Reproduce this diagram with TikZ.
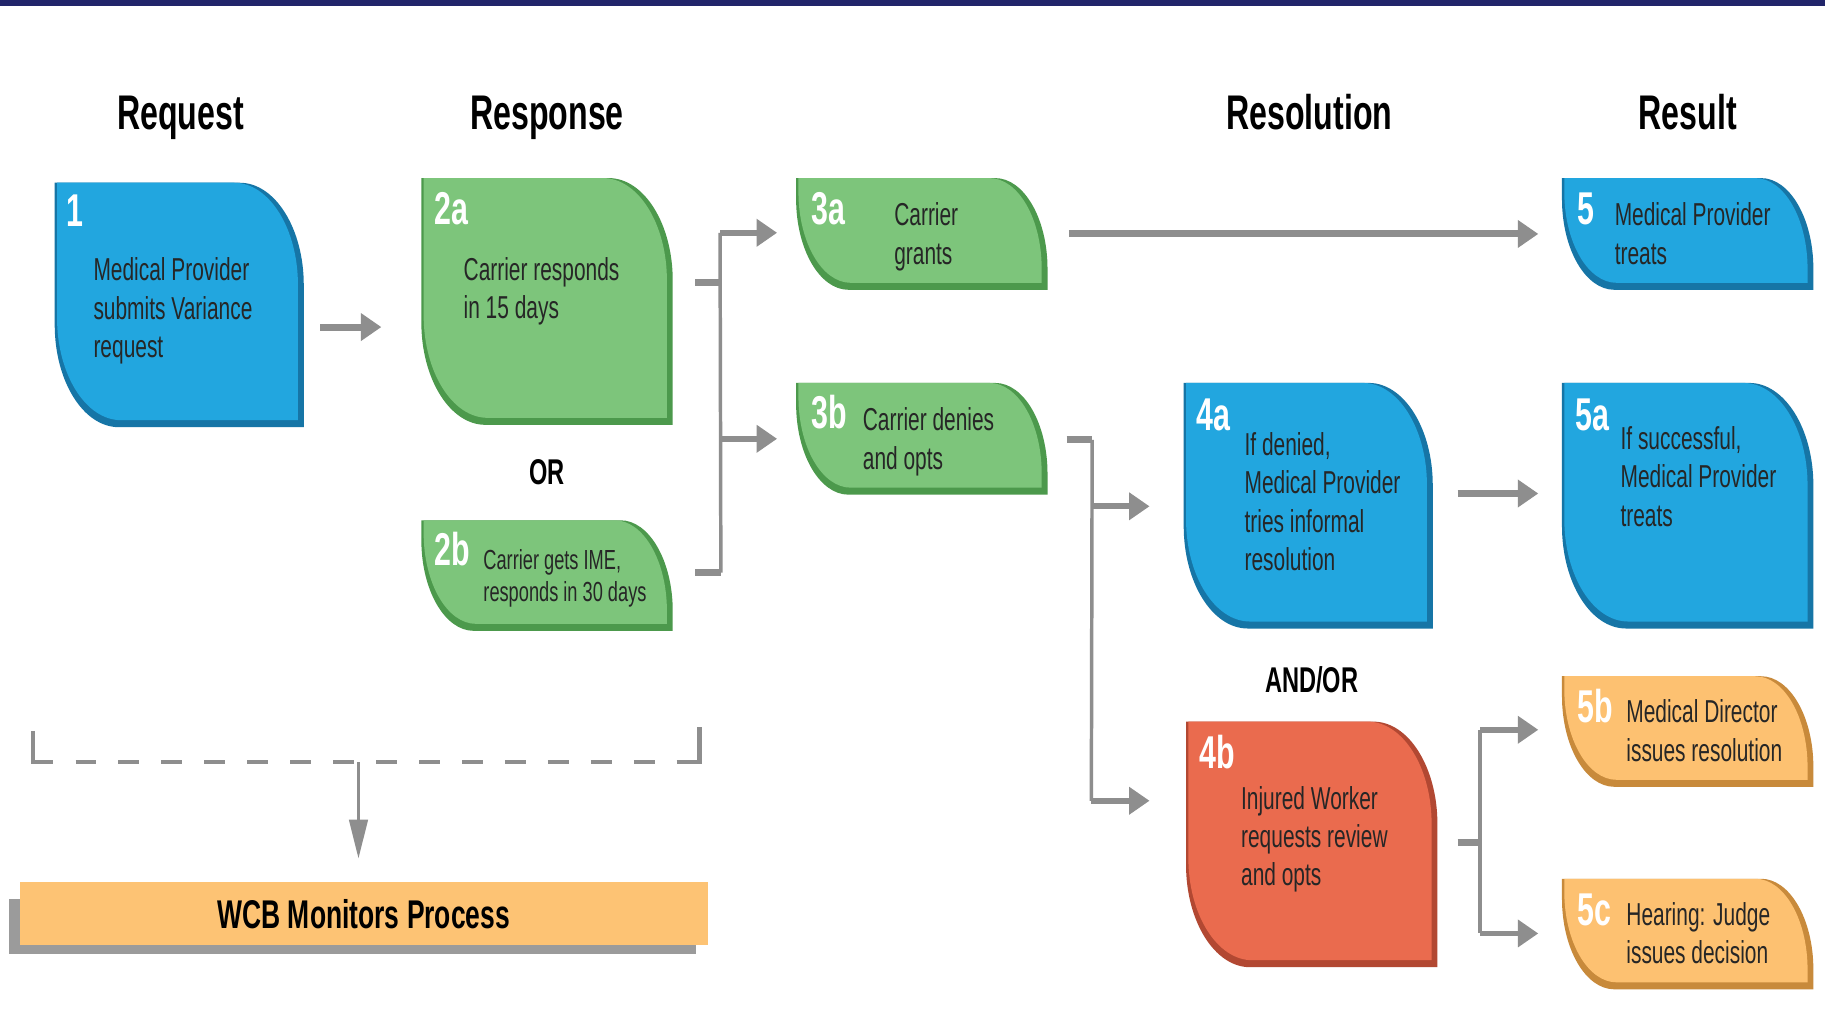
\documentclass[tikz,border=0pt]{standalone}
\usepackage{fontspec}
\setmainfont{Liberation Sans}[FakeStretch=0.66]
\usetikzlibrary{arrows.meta,fit,calc}
\definecolor{navy}{HTML}{21256A}
\definecolor{bluemain}{HTML}{22A6DF}
\definecolor{bluedark}{HTML}{1675A6}
\definecolor{greenmain}{HTML}{7DC57B}
\definecolor{greendark}{HTML}{4C994C}
\definecolor{redmain}{HTML}{EA6B4E}
\definecolor{reddark}{HTML}{B24832}
\definecolor{orgmain}{HTML}{FDC171}
\definecolor{orgdark}{HTML}{C88A3B}
\definecolor{wcborange}{HTML}{FDC374}
\definecolor{shadowgray}{HTML}{9B9B9B}
\definecolor{arrowgray}{HTML}{8E8E8E}
\definecolor{txt}{HTML}{262626}
% #1 L, #2 T, #3 R, #4 B, #5 rx, #6 ry, #7 fill colour
\newcommand\boxshape[7]{%
  \fill[#7] (#1,#2) -- ({#3-#5},#2) .. controls ({#3-0.448*#5},#2) and (#3,{#2+0.448*#6}) .. (#3,{#2+#6})
    -- (#3,#4) -- ({#1+#5},#4) .. controls ({#1+0.448*#5},#4) and (#1,{#4-0.448*#6}) .. (#1,{#4-#6}) -- cycle;}
% #1 name, #2 L, #3 T, #4 R, #5 B, #6 rx, #7 ry, #8 colour prefix
\newcommand\flowbox[8]{%
  \boxshape{#2}{#3}{#4}{#5}{#6}{#7}{#8dark}
  \boxshape{#2+2}{#3}{#4-5}{#5-6}{#6}{#7}{#8main}
  \node[fit={(#2,#3) (#4,#5)}, inner sep=0pt] (#1) {};}
\tikzset{
  body/.style={anchor=base west, align=left, inner sep=0pt, text=txt,
    font=\fontsize{15.5}{18.7}\selectfont},
  smallbody/.style={body, font=\fontsize{13.5}{15.9}\selectfont},
  lbl/.style={anchor=base west, inner sep=0pt, text=white,
    font=\bfseries\fontsize{22.5}{24}\selectfont},
  head/.style={anchor=base, inner sep=0pt, text=black,
    font=\bfseries\fontsize{23.8}{26}\selectfont},
  conj/.style={anchor=base, inner sep=0pt, text=black,
    font=\bfseries\fontsize{17.5}{19}\selectfont},
  arr/.style={draw=arrowgray, line width=3.4pt, -{Triangle[length=10pt,width=13pt]}},
  brarr/.style={draw=arrowgray, line width=2.8pt, -{Triangle[length=10pt,width=13pt]}},
  stub/.style={draw=arrowgray, line width=3.4pt},
  trunk/.style={draw=arrowgray, line width=1.7pt},
  thinline/.style={draw=arrowgray, line width=2pt},
  thinarr/.style={draw=arrowgray, line width=1.6pt, -{Triangle[length=19pt,width=9pt]}},
  wcbbar/.style={fill=wcborange, inner sep=0pt, minimum width=11.82cm, minimum height=1.08cm,
    text=black, font=\bfseries\fontsize{19.6}{22}\selectfont}
}
\begin{document}
\begin{tikzpicture}[x=0.02cm,y=-0.02cm]
\useasboundingbox (0,0) rectangle (1568,882);
\fill[white] (0,0) rectangle (1568,882);
\fill[navy] (0,0) rectangle (1568,5);

% headers
\node[head] (hreq) at (155,111) {Request};
\node[head] (hresp) at (470,111) {Response};
\node[head] (hres) at (1125,111) {Resolution};
\node[head] (hresult) at (1450,111) {Result};

% boxes
\flowbox{n1}{47}{157}{261}{367}{55}{88}{blue}
\flowbox{n2a}{362}{153}{578}{365}{55}{88}{green}
\flowbox{n2b}{362}{447}{578}{542}{45}{78}{green}
\flowbox{n3a}{684}{153}{900}{249}{45}{78}{green}
\flowbox{n3b}{684}{329}{900}{425}{45}{78}{green}
\flowbox{n5}{1342}{153}{1558}{249}{45}{78}{blue}
\flowbox{n4a}{1017}{329}{1231}{540}{55}{88}{blue}
\flowbox{n5a}{1342}{329}{1558}{540}{55}{88}{blue}
\flowbox{n4b}{1019}{620}{1235}{831}{55}{88}{red}
\flowbox{n5b}{1342}{581}{1558}{676}{45}{78}{org}
\flowbox{n5c}{1342}{755}{1558}{850}{45}{78}{org}

% labels
\node[lbl] (l1) at (57,195) {1};
\node[lbl] (l2a) at (373,193) {2a};
\node[lbl] (l2b) at (373,486) {2b};
\node[lbl] (l3a) at (697,193) {3a};
\node[lbl] (l3b) at (697,368) {3b};
\node[lbl] (l5) at (1355,193) {5};
\node[lbl] (l4a) at (1028,370) {4a};
\node[lbl] (l5a) at (1353,370) {5a};
\node[lbl] (l4b) at (1030,660) {4b};
\node[lbl] (l5b) at (1355,621) {5b};
\node[lbl] (l5c) at (1355,795) {5c};

% texts (anchored at the baseline of the last line)
\node[body] (t1) at (80,307) {Medical Provider\\submits Variance\\request};
\node[body] (t2a) at (398,274) {Carrier responds\\in 15 days};
\node[smallbody] (t2b) at (415,517) {Carrier gets IME,\\responds in 30 days};
\node[body] (t3a) at (768,227) {Carrier\\grants};
\node[body] (t3b) at (741,403) {Carrier denies\\and opts};
\node[body] (t5) at (1387,227) {Medical Provider\\treats};
\node[body] (t4a) at (1069,490) {If denied,\\Medical Provider\\tries informal\\resolution};
\node[body] (t5a) at (1392,452) {If successful,\\Medical Provider\\treats};
\node[body] (t4b) at (1066,761) {Injured Worker\\requests review\\and opts};
\node[body] (t5b) at (1397,654) {Medical Director\\issues resolution};
\node[body] (t5c) at (1397,828) {Hearing: Judge\\issues decision};

\node[conj] (or) at (470,416) {OR};
\node[conj] (andor) at (1127,595) {AND/OR};

% connectors
\draw[arr] ([shift={(14,19)}]n1.east) -- ([shift={(-34,22)}]n2a.west);
\draw[stub] ([shift={(19,-16)}]n2a.east) -- ++(22,0);
\draw[stub] ([shift={(19,-2.5)}]n2b.east) -- ++(22,0);
\draw[trunk] ([shift={(41,-2.5)}]n2b.east) -- ([shift={(-65,-1)}]n3a.west);
\draw[brarr] ([shift={(-65,-1)}]n3a.west) -- ([shift={(-16,-1)}]n3a.west);
\draw[brarr] ([shift={(-65,0)}]n3b.west) -- ([shift={(-16,0)}]n3b.west);

\draw[arr] ([shift={(18,0)}]n3a.east) -- ([shift={(-20,0)}]n5.west);

\draw[stub] ([shift={(16,1)}]n3b.east) -- ++(22,0);
\draw[trunk] ([shift={(38,1)}]n3b.east) -- ([shift={(-81,-37.5)}]n4b.west);
\draw[brarr] ([shift={(-79,0.5)}]n4a.west) -- ([shift={(-29,0.5)}]n4a.west);
\draw[brarr] ([shift={(-81,-37.5)}]n4b.west) -- ([shift={(-31,-37.5)}]n4b.west);

\draw[arr] ([shift={(21,-10.5)}]n4a.east) -- ([shift={(-20,-10.5)}]n5a.west);

\draw[stub] ([shift={(17,-1.5)}]n4b.east) -- ++(20,0);
\draw[trunk] ([shift={(-70,-1.5)}]n5b.west) -- ([shift={(-70,-0.5)}]n5c.west);
\draw[brarr] ([shift={(-70,-1.5)}]n5b.west) -- ([shift={(-20,-1.5)}]n5b.west);
\draw[brarr] ([shift={(-70,-0.5)}]n5c.west) -- ([shift={(-20,-0.5)}]n5c.west);

% WCB monitors
\fill[shadowgray] (8,772) rectangle (598,820);
\node[wcbbar] (wcb) at (312.5,785) {WCB Monitors Process};

\coordinate (bl) at (28,628);
\coordinate (br) at (601,625);
\coordinate (dmid) at (308,655);
\draw[thinline] (bl) -- (28,656);
\draw[thinline] (br) -- (601,656);
\draw[thinline, dash pattern=on 10.2pt off 10.8pt] (28,655) -- (601,655);
\draw[thinarr] (dmid) -- ([shift={(-4.5,-20)}]wcb.north);
\end{tikzpicture}
\end{document}
